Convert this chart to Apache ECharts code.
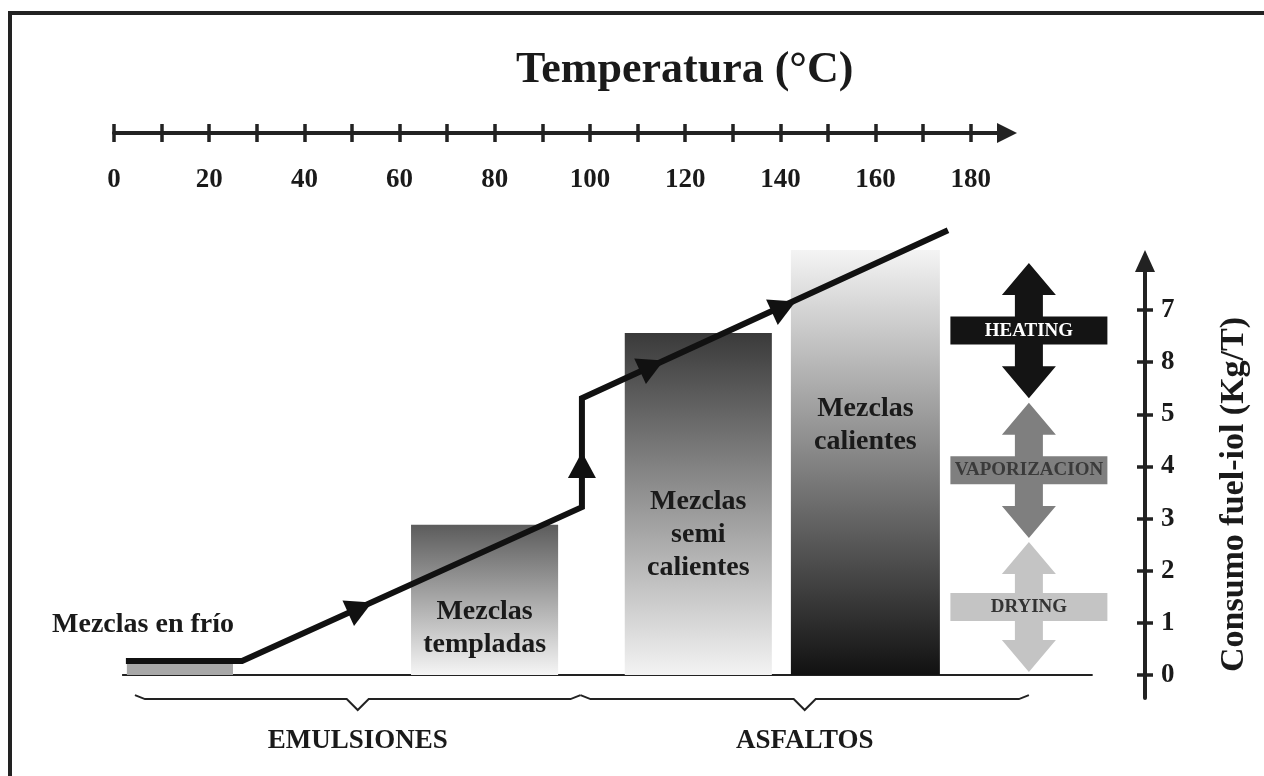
<!DOCTYPE html>
<html>
<head>
<meta charset="utf-8">
<script src="https://cdn.jsdelivr.net/npm/echarts@6/dist/echarts.min.js"></script>
<style>
  html, body { margin: 0; padding: 0; background: #fff; }
  #chart { width: 1264px; height: 776px; }
</style>
</head>
<body>
<div id="chart"></div>
<script>
// Temperature axis (°C)
const tempTicks = [0, 10, 20, 30, 40, 50, 60, 70, 80, 90, 100, 110, 120, 130, 140, 150, 160, 170, 180];
const tempLabels = [0, 20, 40, 60, 80, 100, 120, 140, 160, 180];

// Fuel-oil consumption axis: tick positions and the labels printed on them
const fuelTicks = [0, 1, 2, 3, 4, 5, 6, 7];
const fuelTickLabels = ['0', '1', '2', '3', '4', '5', '8', '7'];

// Mix families: working temperature range and fuel consumption
const mixNames = ['Mezclas en frío', 'Mezclas\ntempladas', 'Mezclas\nsemi\ncalientes', 'Mezclas\ncalientes'];
const mixTempFrom = [2.7, 62.4, 107.3, 142.2];
const mixTempTo = [25, 93.3, 138.2, 173.5];
const mixConsumption = [0.23, 2.88, 6.56, 8.15];
const mixLabelLevel = [0.96, 0.9, 2.69, 4.79];

// Heating path through the mix families
const pathTemp = [2.5, 26.9, 98.3, 98.3, 175.2];
const pathFuel = [0.27, 0.27, 3.22, 5.31, 8.53];

// Direction markers on the path (position and the path segment they sit on)
const markerTemp = [51.7, 98.3, 113.0, 140.7];
const markerFuel = [1.29, 4.03, 5.93, 7.06];
const markerSegment = [1, 2, 3, 3];

// Process stages along the consumption axis
const stageNames = ['DRYING', 'VAPORIZACION', 'HEATING'];
const stageFrom = [0.06, 2.63, 5.31];
const stageTo = [2.55, 5.22, 7.9];
const stageTemp = 192.2;

// Binder families grouped under the temperature range
const groupNames = ['EMULSIONES', 'ASFALTOS'];
const groupFrom = [4.4, 98];
const groupTo = [98, 192.2];

// Ground line under the mixes
const baselineSpan = [1.7, 205.6];

// ---- styling ----
const SERIF = "'Liberation Serif', 'DejaVu Serif', serif";
const INK = '#1a1a1a';
const mixFills = [
  ['#a8a8a8', '#a8a8a8'],
  ['#5c5c5c', '#f5f5f5'],
  ['#3a3a3a', '#f3f3f3'],
  ['#f4f4f4', '#111111']
];
const stageFill = ['#c4c4c4', '#7f7f7f', '#141414'];
const stageText = ['#333333', '#3a3a3a', '#ffffff'];

const chart = echarts.init(document.getElementById('chart'), null, { renderer: 'canvas' });

const tickStyle = { color: '#222', width: 3.5 };

const option = {
  backgroundColor: '#ffffff',
  animation: false,
  title: {
    text: 'Temperatura (°C)',
    left: 511,
    top: 44,
    textStyle: { fontFamily: SERIF, fontWeight: 'bold', fontSize: 44, color: INK }
  },
  graphic: [
    { type: 'rect', shape: { x: 8, y: 11, width: 1256, height: 4 }, style: { fill: '#222' }, silent: true },
    { type: 'rect', shape: { x: 8, y: 11, width: 4, height: 765 }, style: { fill: '#222' }, silent: true }
  ],
  grid: { left: 114, right: 257, top: 261, bottom: 78, containLabel: false },
  xAxis: [
    {
      type: 'value', position: 'top', offset: 128, min: 0, max: 187.6,
      axisLine: { show: true, onZero: false, symbol: ['none', 'triangle'], symbolSize: [20, 20], lineStyle: { color: '#222', width: 4 } },
      axisTick: { show: true, customValues: tempTicks, length: 9, lineStyle: tickStyle },
      axisLabel: {
        show: true, inside: true, margin: 34, customValues: tempLabels,
        fontFamily: SERIF, fontWeight: 'bold', fontSize: 27, color: INK
      },
      splitLine: { show: false }
    },
    {
      type: 'value', position: 'top', offset: 128, min: 0, max: 187.6,
      axisLine: { show: false, onZero: false },
      axisTick: { show: true, inside: true, customValues: tempTicks, length: 9, lineStyle: tickStyle },
      axisLabel: { show: false },
      splitLine: { show: false }
    }
  ],
  yAxis: [
    {
      type: 'value', position: 'right', offset: 138, min: -0.44, max: 7.94,
      name: 'Consumo fuel-iol (Kg/T)', nameLocation: 'middle', nameRotate: 90, nameGap: 72,
      nameTextStyle: { fontFamily: SERIF, fontWeight: 'bold', fontSize: 34, color: INK, padding: [0, 30, 0, 0] },
      axisLine: { show: true, onZero: false, symbol: ['none', 'triangle'], symbolSize: [20, 22], lineStyle: { color: '#222', width: 4 } },
      axisTick: { show: true, customValues: fuelTicks, length: 8, lineStyle: tickStyle },
      axisLabel: {
        show: true, margin: 16, customValues: fuelTicks,
        formatter: v => fuelTickLabels[Math.round(v)],
        fontFamily: SERIF, fontWeight: 'bold', fontSize: 27, color: INK
      },
      splitLine: { show: false }
    },
    {
      type: 'value', position: 'right', offset: 138, min: -0.44, max: 7.94,
      axisLine: { show: false, onZero: false },
      axisTick: { show: true, inside: true, customValues: fuelTicks, length: 8, lineStyle: tickStyle },
      axisLabel: { show: false },
      splitLine: { show: false }
    }
  ],
  series: [
    // ground line
    {
      type: 'custom', silent: true, clip: false, z: 2,
      data: [[baselineSpan[0], baselineSpan[1]]],
      renderItem(params, api) {
        const a = api.coord([api.value(0), 0]);
        const b = api.coord([api.value(1), 0]);
        return { type: 'line', shape: { x1: a[0], y1: a[1], x2: b[0], y2: b[1] }, style: { stroke: '#222', lineWidth: 2 } };
      }
    },
    // mix families as temperature-range blocks
    {
      type: 'custom', silent: true, clip: false, z: 3,
      data: mixNames.map((n, i) => [mixTempFrom[i], mixTempTo[i], mixConsumption[i], mixLabelLevel[i]]),
      encode: { x: [0, 1], y: 2 },
      renderItem(params, api) {
        const i = params.dataIndex;
        const tl = api.coord([api.value(0), api.value(2)]);
        const br = api.coord([api.value(1), 0]);
        const fill = new echarts.graphic.LinearGradient(0, 0, 0, 1, [
          { offset: 0, color: mixFills[i][0] },
          { offset: 1, color: mixFills[i][1] }
        ]);
        const children = [{
          type: 'rect',
          shape: { x: tl[0], y: tl[1], width: br[0] - tl[0], height: br[1] - tl[1] },
          style: { fill: fill }
        }];
        const first = i === 0;
        const lp = api.coord([first ? api.value(1) : (api.value(0) + api.value(1)) / 2, api.value(3)]);
        children.push({
          type: 'text', z2: 10,
          style: {
            text: mixNames[i], x: lp[0] + (first ? 1 : 0), y: lp[1],
            align: first ? 'right' : 'center', verticalAlign: 'middle',
            fontFamily: SERIF, fontWeight: 'bold', fontSize: 28, lineHeight: 33, fill: INK
          }
        });
        return { type: 'group', children: children };
      }
    },
    // heating path
    {
      type: 'line', silent: true, clip: false, symbol: 'none', z: 5,
      data: pathTemp.map((t, i) => [t, pathFuel[i]]),
      lineStyle: { color: '#111', width: 6, join: 'miter', cap: 'butt' }
    },
    // direction markers on the path
    {
      type: 'custom', silent: true, clip: false, z: 6,
      data: markerTemp.map((t, i) => [t, markerFuel[i]]),
      renderItem(params, api) {
        const i = params.dataIndex;
        const p = api.coord([api.value(0), api.value(1)]);
        const s = markerSegment[i];
        const a = api.coord([pathTemp[s], pathFuel[s]]);
        const b = api.coord([pathTemp[s + 1], pathFuel[s + 1]]);
        const ang = Math.atan2(b[1] - a[1], b[0] - a[0]);
        const ux = Math.cos(ang), uy = Math.sin(ang);
        const nx = -uy, ny = ux;
        const L = 26, W = 14;
        const tip = [p[0] + ux * L / 2, p[1] + uy * L / 2];
        const base = [p[0] - ux * L / 2, p[1] - uy * L / 2];
        return {
          type: 'polygon',
          shape: { points: [tip, [base[0] + nx * W, base[1] + ny * W], [base[0] - nx * W, base[1] - ny * W]] },
          style: { fill: '#111' }
        };
      }
    },
    // process stages: double arrows with a labelled band
    {
      type: 'custom', silent: true, clip: false, z: 4,
      data: stageNames.map((n, i) => [stageTemp, stageFrom[i], stageTo[i]]),
      renderItem(params, api) {
        const i = params.dataIndex;
        const top = api.coord([api.value(0), api.value(2)]);
        const bot = api.coord([api.value(0), api.value(1)]);
        const cx = top[0], hw = 27, sw = 14, hl = 32;
        const t = top[1], b = bot[1], mid = (t + b) / 2;
        const pts = [
          [cx, t], [cx + hw, t + hl], [cx + sw, t + hl], [cx + sw, b - hl], [cx + hw, b - hl],
          [cx, b], [cx - hw, b - hl], [cx - sw, b - hl], [cx - sw, t + hl], [cx - hw, t + hl]
        ];
        return {
          type: 'group',
          children: [
            { type: 'polygon', shape: { points: pts }, style: { fill: stageFill[i] } },
            { type: 'rect', shape: { x: cx - 78.5, y: mid - 14, width: 157, height: 28 }, style: { fill: stageFill[i] } },
            {
              type: 'text', z2: 10,
              style: {
                text: stageNames[i], x: cx, y: mid, align: 'center', verticalAlign: 'middle',
                fontFamily: SERIF, fontWeight: 'bold', fontSize: 19, fill: stageText[i]
              }
            }
          ]
        };
      }
    },
    // binder family braces
    {
      type: 'custom', silent: true, clip: false, z: 4,
      data: groupNames.map((n, i) => [groupFrom[i], groupTo[i]]),
      renderItem(params, api) {
        const i = params.dataIndex;
        const a = api.coord([api.value(0), 0]);
        const b = api.coord([api.value(1), 0]);
        const y = a[1] + 24;
        const m = (a[0] + b[0]) / 2;
        const pts = [
          [a[0], y - 4], [a[0] + 10, y], [m - 11, y], [m, y + 11], [m + 11, y], [b[0] - 10, y], [b[0], y - 4]
        ];
        return {
          type: 'group',
          children: [
            { type: 'polyline', shape: { points: pts }, style: { stroke: '#222', lineWidth: 2, fill: null } },
            {
              type: 'text',
              style: {
                text: groupNames[i], x: m, y: a[1] + 66, align: 'center', verticalAlign: 'middle',
                fontFamily: SERIF, fontWeight: 'bold', fontSize: 27, fill: INK
              }
            }
          ]
        };
      }
    }
  ]
};

chart.setOption(option);
</script>
</body>
</html>
